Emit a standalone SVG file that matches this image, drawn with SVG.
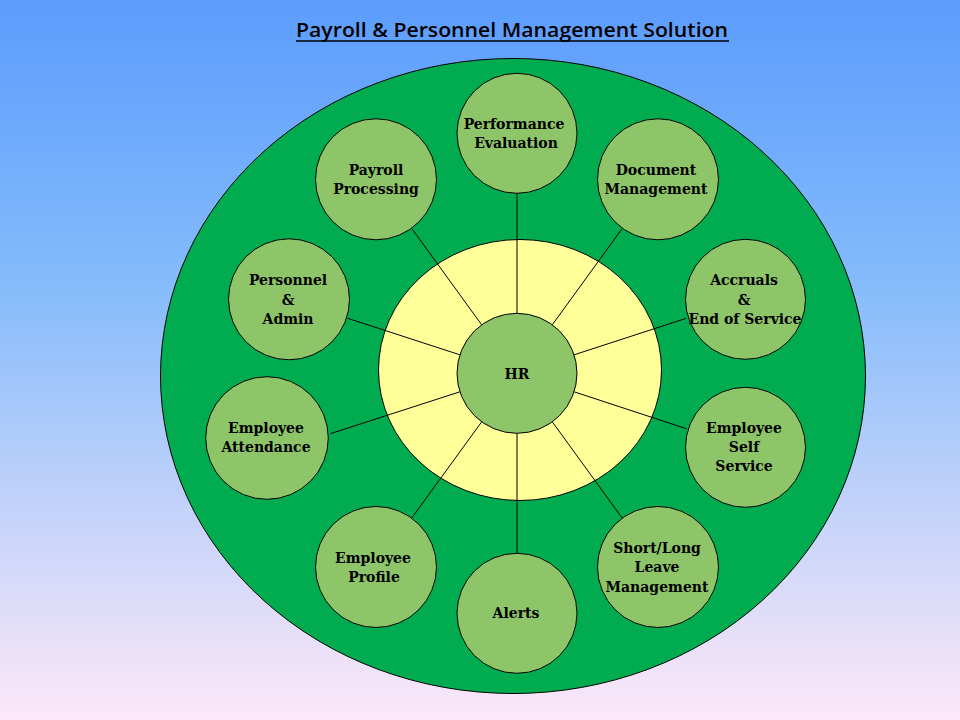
<svg xmlns="http://www.w3.org/2000/svg" width="960" height="720" viewBox="0 0 960 720">
<defs>
<linearGradient id="bg" x1="0" y1="0" x2="0" y2="1">
<stop offset="0" stop-color="#5b9cfd"/>
<stop offset="0.4" stop-color="#86bcfb"/>
<stop offset="1" stop-color="#fde8f8"/>
</linearGradient>
<style>
.node{fill:#8ec569;stroke:#000;stroke-width:1}
.lbl{font-family:"DejaVu Serif","Liberation Serif",serif;font-weight:bold;font-size:14px;fill:#000;text-anchor:middle}
.spoke{stroke:#000;stroke-width:1;fill:none}
</style>
</defs>
<rect x="0" y="0" width="960" height="720" fill="url(#bg)"/>
<text x="512" y="37" font-family="'Open Sans','Liberation Sans',sans-serif" font-size="20" font-weight="600" text-anchor="middle" textLength="432" lengthAdjust="spacingAndGlyphs" fill="#000">Payroll &amp; Personnel Management Solution</text>
<line x1="296" y1="41" x2="729" y2="41" stroke="#000" stroke-width="1.5"/>
<ellipse id="outer-ring" cx="513" cy="376" rx="352.5" ry="317.5" fill="#00ac4f" stroke="#000" stroke-width="1"/>
<ellipse id="inner-ring" cx="520" cy="370" rx="141.5" ry="130.5" fill="#ffff99" stroke="#000" stroke-width="1"/>
<g id="connectors" class="spoke">
<line x1="517" y1="313.3" x2="517" y2="193.3"/>
<line x1="517" y1="433.3" x2="517" y2="553.3"/>
<line x1="481.7" y1="324.8" x2="412" y2="228.8"/>
<line x1="552.3" y1="324.8" x2="622" y2="228.8"/>
<line x1="459.9" y1="354.8" x2="347.7" y2="318.3"/>
<line x1="574.1" y1="354.8" x2="686.3" y2="318.3"/>
<line x1="459.9" y1="391.8" x2="330.6" y2="433.6"/>
<line x1="574.1" y1="391.8" x2="686.7" y2="428.8"/>
<line x1="481.7" y1="421.8" x2="411.7" y2="518.1"/>
<line x1="552.3" y1="421.8" x2="622.2" y2="518.1"/>
</g>
<g id="hr"><circle class="node" cx="517" cy="373.3" r="60"/><text class="lbl" x="517" y="379">HR</text></g>
<g id="performance"><circle class="node" cx="517" cy="133.3" r="60"/><text class="lbl" x="514" y="129">Performance</text><text class="lbl" x="516" y="148">Evaluation</text></g>
<g id="payroll"><circle class="node" cx="376" cy="179.3" r="60.5"/><text class="lbl" x="376" y="175">Payroll</text><text class="lbl" x="376" y="194">Processing</text></g>
<g id="document"><circle class="node" cx="658" cy="179.3" r="60.5"/><text class="lbl" x="656" y="175">Document</text><text class="lbl" x="656" y="194">Management</text></g>
<g id="personnel"><circle class="node" cx="289" cy="299.3" r="60.5"/><text class="lbl" x="288" y="285">Personnel</text><text class="lbl" x="288" y="305">&amp;</text><text class="lbl" x="288" y="324">Admin</text></g>
<g id="accruals"><circle class="node" cx="745.5" cy="299.3" r="60"/><text class="lbl" x="744" y="285">Accruals</text><text class="lbl" x="744" y="305">&amp;</text><text class="lbl" x="745" y="324">End of Service</text></g>
<g id="attendance"><circle class="node" cx="267" cy="438" r="61.3"/><text class="lbl" x="266" y="433">Employee</text><text class="lbl" x="266" y="452">Attendance</text></g>
<g id="selfservice"><circle class="node" cx="745.5" cy="447.3" r="60"/><text class="lbl" x="744" y="433">Employee</text><text class="lbl" x="744" y="452">Self</text><text class="lbl" x="744" y="471">Service</text></g>
<g id="profile"><circle class="node" cx="376" cy="567" r="60.5"/><text class="lbl" x="373" y="563">Employee</text><text class="lbl" x="374" y="582">Profile</text></g>
<g id="alerts"><circle class="node" cx="517" cy="613.3" r="60"/><text class="lbl" x="516" y="618">Alerts</text></g>
<g id="leave"><circle class="node" cx="658" cy="567" r="60.5"/><text class="lbl" x="657" y="553">Short/Long</text><text class="lbl" x="657" y="572">Leave</text><text class="lbl" x="657" y="592">Management</text></g>
</svg>
